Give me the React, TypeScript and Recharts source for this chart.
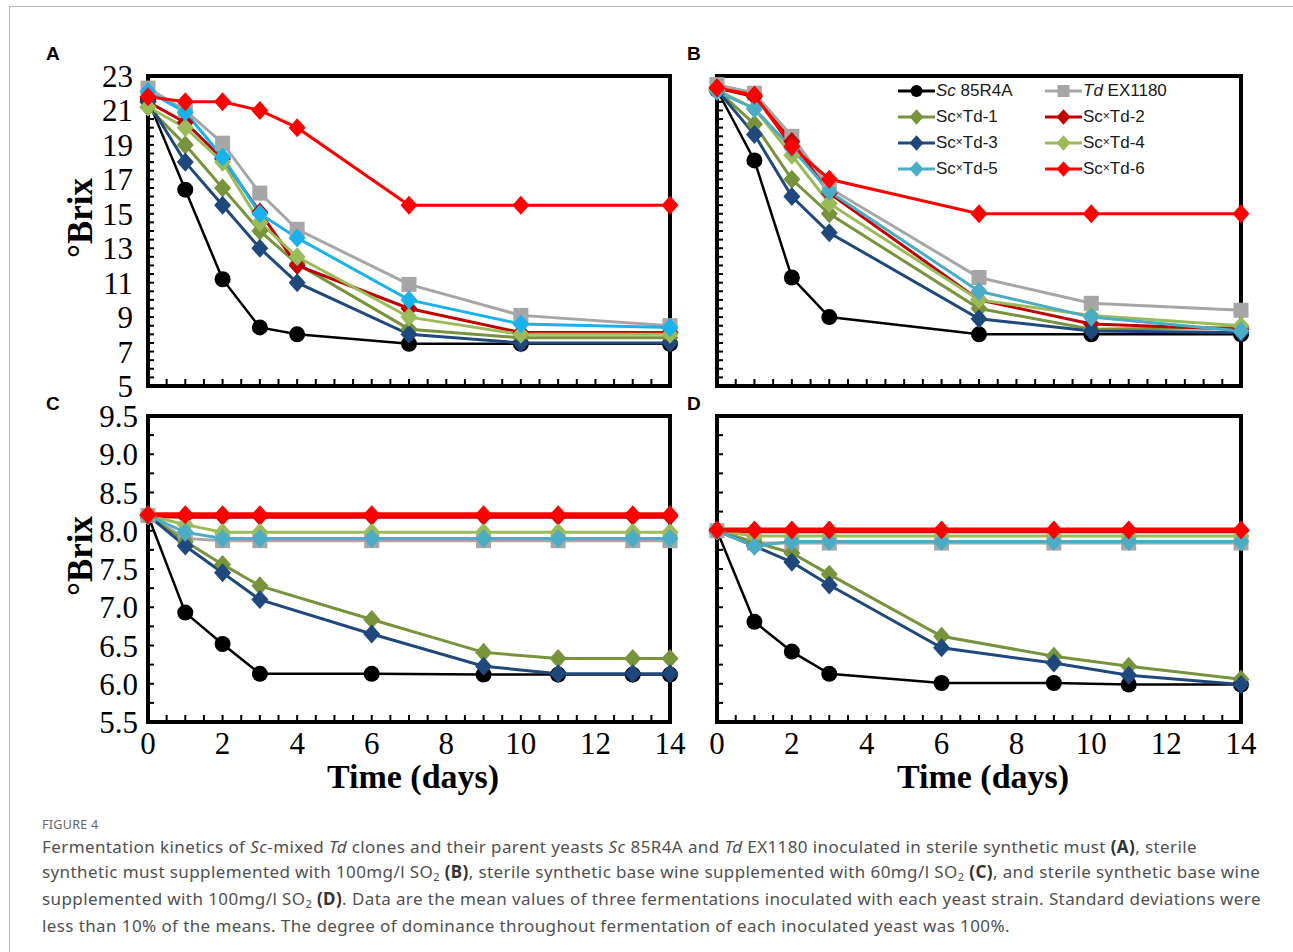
import React from 'react';
import { LineChart, Line, XAxis, YAxis, Legend, Label, ReferenceArea } from 'recharts';

// ---------- series definitions ----------
const SERIES_KEYS = ['sc', 'td', 'x1', 'x2', 'x3', 'x4', 'x5', 'x6'];
const SERIES_NAMES = ['Sc 85R4A', 'Td EX1180', 'Sc×Td-1', 'Sc×Td-2', 'Sc×Td-3', 'Sc×Td-4', 'Sc×Td-5', 'Sc×Td-6'];
const SERIES_COLORS = ['#000000', '#A6A6A6', '#77933C', '#C00000', '#1F497D', '#9BBB59', '#4BACC6', '#FF0000'];
const SERIES_MARKERS = ['circle', 'square', 'diamond', 'diamond', 'diamond', 'diamond', 'diamond', 'diamond'];
const CYAN_PANEL_A = '#19B2EC';

// ---------- panel A: sterile synthetic must ----------
const daysA = [0, 1, 2, 3, 4, 7, 10, 14];
const scA = [21.6, 16.4, 11.2, 8.4, 8.0, 7.45, 7.45, 7.45];
const tdA = [22.3, 21.0, 19.1, 16.2, 14.1, 10.9, 9.1, 8.5];
const x1A = [21.2, 19.0, 16.5, 14.0, 12.1, 8.3, 7.8, 7.8];
const x2A = [21.5, 20.3, 18.2, 15.1, 12.0, 9.5, 8.1, 8.1];
const x3A = [21.5, 18.0, 15.5, 13.0, 11.0, 8.0, 7.5, 7.5];
const x4A = [21.2, 20.0, 18.0, 14.5, 12.5, 9.0, 8.0, 8.0];
const x5A = [22.1, 20.9, 18.3, 15.0, 13.6, 10.0, 8.6, 8.4];
const x6A = [21.8, 21.5, 21.5, 21.0, 20.0, 15.5, 15.5, 15.5];

// ---------- panel B: must + 100 mg/l SO2 ----------
const daysB = [0, 1, 2, 3, 7, 10, 14];
const scB = [22.2, 18.1, 11.3, 9.0, 8.0, 8.0, 8.0];
const tdB = [22.5, 22.0, 19.5, 16.5, 11.3, 9.8, 9.4];
const x1B = [22.2, 20.2, 17.0, 15.0, 9.5, 8.3, 8.4];
const x2B = [22.3, 21.8, 19.2, 16.2, 10.0, 8.6, 8.3];
const x3B = [22.2, 19.6, 16.0, 13.9, 8.9, 8.2, 8.1];
const x4B = [22.2, 21.1, 18.4, 15.6, 10.0, 9.1, 8.5];
const x5B = [22.1, 21.1, 18.8, 16.3, 10.5, 9.0, 8.2];
const x6B = [22.3, 21.9, 18.9, 17.0, 15.0, 15.0, 15.0];

// ---------- panel C: base wine + 60 mg/l SO2 ----------
const daysC = [0, 1, 2, 3, 6, 9, 11, 13, 14];
const scC = [8.2, 6.93, 6.52, 6.13, 6.13, 6.12, 6.12, 6.12, 6.12];
const tdC = [8.2, 7.9, 7.87, 7.87, 7.87, 7.87, 7.87, 7.87, 7.87];
const x1C = [8.2, 7.86, 7.56, 7.28, 6.84, 6.41, 6.33, 6.33, 6.33];
const x2C = [8.2, 8.19, 8.19, 8.19, 8.19, 8.19, 8.19, 8.19, 8.19];
const x3C = [8.2, 7.8, 7.45, 7.1, 6.65, 6.23, 6.13, 6.13, 6.13];
const x4C = [8.2, 8.08, 7.98, 7.98, 7.98, 7.98, 7.98, 7.98, 7.98];
const x5C = [8.2, 7.98, 7.9, 7.9, 7.9, 7.9, 7.9, 7.9, 7.9];
const x6C = [8.21, 8.21, 8.21, 8.21, 8.21, 8.21, 8.21, 8.21, 8.21];

// ---------- panel D: base wine + 100 mg/l SO2 ----------
const daysD = [0, 1, 2, 3, 6, 9, 11, 14];
const scD = [8.0, 6.81, 6.42, 6.13, 6.01, 6.01, 5.99, 5.99];
const tdD = [8.0, 7.84, 7.84, 7.84, 7.84, 7.84, 7.84, 7.84];
const x1D = [8.0, 7.85, 7.71, 7.43, 6.62, 6.36, 6.23, 6.06];
const x2D = [8.0, 8.0, 8.0, 8.0, 8.0, 8.0, 8.0, 8.0];
const x3D = [8.0, 7.8, 7.59, 7.29, 6.47, 6.27, 6.11, 5.99];
const x4D = [8.0, 7.93, 7.93, 7.93, 7.93, 7.93, 7.93, 7.93];
const x5D = [8.0, 7.8, 7.86, 7.86, 7.86, 7.86, 7.86, 7.86];
const x6D = [8.01, 8.01, 8.01, 8.01, 8.01, 8.01, 8.01, 8.01];

// ---------- axis ticks ----------
const X_LABELS = [0, 2, 4, 6, 8, 10, 12, 14];
const X_MINOR_STEP = 0.5;
const Y_LABELS_AB = [5, 7, 9, 11, 13, 15, 17, 19, 21, 23];
const Y_MINOR_STEP_AB = 0.5;
const Y_LABELS_CD = [5.5, 6.0, 6.5, 7.0, 7.5, 8.0, 8.5, 9.0, 9.5];
const Y_MINOR_STEP_CD = 0.25;

const steps = (lo: number, hi: number, step: number) => {
  const out: number[] = [];
  for (let v = lo; v <= hi + 1e-9; v += step) out.push(Math.round(v * 1000) / 1000);
  return out;
};

const buildRows = (days: number[], cols: number[][]) =>
  days.map((d, i) => {
    const row: any = { day: d };
    SERIES_KEYS.forEach((k, j) => {
      row[k] = cols[j][i];
    });
    return row;
  });

const rowsA = buildRows(daysA, [scA, tdA, x1A, x2A, x3A, x4A, x5A, x6A]);
const rowsB = buildRows(daysB, [scB, tdB, x1B, x2B, x3B, x4B, x5B, x6B]);
const rowsC = buildRows(daysC, [scC, tdC, x1C, x2C, x3C, x4C, x5C, x6C]);
const rowsD = buildRows(daysD, [scD, tdD, x1D, x2D, x3D, x4D, x5D, x6D]);

const SERIF = '"Liberation Serif", "Times New Roman", serif';
const SANS = '"Liberation Sans", Arial, sans-serif';

const markerShape = (shape: string, cx: number, cy: number, s: number, color: string, key?: any) => {
  if (shape === 'circle') return <circle key={key} cx={cx} cy={cy} r={s} fill={color} />;
  if (shape === 'square')
    return <rect key={key} x={cx - s} y={cy - s} width={2 * s} height={2 * s} fill={color} />;
  return (
    <path
      key={key}
      d={`M${cx},${cy - s * 1.12}L${cx + s},${cy}L${cx},${cy + s * 1.12}L${cx - s},${cy}Z`}
      fill={color}
    />
  );
};

const makeDot = (shape: string, color: string, size: number) => (props: any) => {
  const { cx, cy, index } = props;
  if (cx == null || cy == null || isNaN(cx) || isNaN(cy)) return <g key={`e${index}`} />;
  return markerShape(shape, cx, cy, size, color, `d${index}`);
};

const LegendLabel = ({ name }: { name: string }) => {
  if (name.startsWith('Sc ') || name.startsWith('Td ')) {
    const [first, ...rest] = name.split(' ');
    return (
      <span>
        <i>{first}</i> {rest.join(' ')}
      </span>
    );
  }
  const parts = name.split('×');
  return (
    <span>
      {parts[0]}
      <span style={{ fontSize: 12, position: 'relative', top: -2 }}>×</span>
      {parts[1]}
    </span>
  );
};

const LegendContent = () => (
  <div style={{ display: 'grid', gridTemplateColumns: '147px 147px', rowGap: 0 }}>
    {SERIES_NAMES.map((name, i) => (
      <div key={name} style={{ display: 'flex', alignItems: 'center', height: 26, fontFamily: SANS, fontSize: 17, color: '#1a1a1a' }}>
        <svg width={37} height={18} style={{ flex: 'none' }}>
          <line x1={0} y1={9} x2={37} y2={9} stroke={SERIES_COLORS[i]} strokeWidth={3} />
          {markerShape(SERIES_MARKERS[i], 18.5, 9, SERIES_MARKERS[i] === 'diamond' ? 7 : 6, SERIES_COLORS[i])}
        </svg>
        <span style={{ marginLeft: 1, whiteSpace: 'nowrap' }}>
          <LegendLabel name={name} />
        </span>
      </div>
    ))}
  </div>
);

type PanelProps = {
  left: number;
  top: number;
  width: number;
  height: number;
  yAxisWidth: number;
  xAxisHeight: number;
  marginRight: number;
  rows: any[];
  yDomain: [number, number];
  yTicks: number[];
  yLabels: number[];
  yDecimals: number;
  yTickMargin: number;
  showYLabels: boolean;
  showXLabels: boolean;
  cyan: string;
  legend?: boolean;
  redWidth: number;
};

const Panel = (p: PanelProps) => {
  const colors = SERIES_COLORS.map((c, i) => (i === 6 ? p.cyan : c));
  return (
    <div style={{ position: 'absolute', left: p.left, top: p.top }}>
      <LineChart width={p.width} height={p.height} data={p.rows} margin={{ top: 16, right: p.marginRight, bottom: 0, left: 0 }}>
        <XAxis
          dataKey="day"
          type="number"
          domain={[0, 14]}
          ticks={steps(0, 14, X_MINOR_STEP)}
          interval={0}
          height={p.xAxisHeight}
          axisLine={false}
          tickSize={-7}
          tickMargin={17}
          tickLine={{ stroke: '#000', strokeWidth: 2 }}
          tick={{ fill: '#000', fontSize: 31, fontFamily: SERIF }}
          tickFormatter={(v: number) => (p.showXLabels && X_LABELS.includes(v) ? String(v) : '')}
        >
          {p.showXLabels && (
            <Label
              content={(lp: any) => {
                const vb = lp.viewBox || { x: 0, y: 0, width: 0, height: 0 };
                return (
                  <text
                    x={vb.x + vb.width / 2 + 4}
                    y={vb.y + 54}
                    textAnchor="middle"
                    dominantBaseline="central"
                    fontFamily={SERIF}
                    fontWeight="bold"
                    fontSize={34}
                    fill="#000"
                  >
                    Time (days)
                  </text>
                );
              }}
            />
          )}
        </XAxis>
        <YAxis
          type="number"
          domain={p.yDomain}
          ticks={p.yTicks}
          interval={0}
          width={p.yAxisWidth}
          axisLine={false}
          tickSize={-6}
          tickMargin={p.yTickMargin}
          tickLine={{ stroke: '#000', strokeWidth: 2 }}
          tick={{ fill: '#000', fontSize: 31, fontFamily: SERIF }}
          tickFormatter={(v: number) =>
            p.showYLabels && p.yLabels.some((l) => Math.abs(l - v) < 1e-6) ? v.toFixed(p.yDecimals) : ''
          }
        >
          {p.showYLabels && (
            <Label
              content={(lp: any) => {
                const vb = lp.viewBox || { x: 0, y: 0, width: 0, height: 0 };
                const cx = vb.x + 80;
                const cy = vb.y + vb.height / 2 - 13;
                return (
                  <text
                    transform={`translate(${cx},${cy}) rotate(-90)`}
                    textAnchor="middle"
                    dominantBaseline="central"
                    fontFamily={SERIF}
                    fontWeight="bold"
                    fontSize={35}
                    fill="#000"
                  >
                    °Brix
                  </text>
                );
              }}
            />
          )}
        </YAxis>
        <ReferenceArea
          x1={0}
          x2={14}
          y1={p.yDomain[0]}
          y2={p.yDomain[1]}
          fill="#ffffff"
          fillOpacity={0}
          stroke="#000"
          strokeWidth={4}
          ifOverflow="visible"
        />
        {SERIES_KEYS.map((k, i) => (
          <Line
            key={k}
            dataKey={k}
            name={SERIES_NAMES[i]}
            type="linear"
            stroke={colors[i]}
            strokeWidth={i === 7 || i === 3 ? p.redWidth : i === 0 ? 2.5 : 3}
            dot={makeDot(SERIES_MARKERS[i], colors[i], SERIES_MARKERS[i] === 'diamond' ? 8.5 : SERIES_MARKERS[i] === 'circle' ? 8 : 7.5)}
            activeDot={false}
            isAnimationActive={false}
          />
        ))}
        {p.legend && (
          <Legend
            layout="horizontal"
            verticalAlign="middle"
            align="center"
            content={() => <LegendContent />}
            wrapperStyle={{ position: 'absolute', left: 198, top: 18, width: 300, height: 110 }}
          />
        )}
      </LineChart>
    </div>
  );
};

const PanelLetter = ({ x, y, t }: { x: number; y: number; t: string }) => (
  <div style={{ position: 'absolute', left: x, top: y, fontFamily: SANS, fontWeight: 'bold', fontSize: 19, lineHeight: '20px', color: '#000' }}>
    {t}
  </div>
);

const CAPTION_LINES = [
  [
    { t: 'Fermentation kinetics of ' },
    { t: 'Sc', i: true },
    { t: '-mixed ' },
    { t: 'Td', i: true },
    { t: ' clones and their parent yeasts ' },
    { t: 'Sc', i: true },
    { t: ' 85R4A and ' },
    { t: 'Td', i: true },
    { t: ' EX1180 inoculated in sterile synthetic must ' },
    { t: '(A)', b: true },
    { t: ', sterile' },
  ],
  [
    { t: 'synthetic must supplemented with 100mg/l SO' },
    { t: '2', s: true },
    { t: ' ' },
    { t: '(B)', b: true },
    { t: ', sterile synthetic base wine supplemented with 60mg/l SO' },
    { t: '2', s: true },
    { t: ' ' },
    { t: '(C)', b: true },
    { t: ', and sterile synthetic base wine' },
  ],
  [
    { t: 'supplemented with 100mg/l SO' },
    { t: '2', s: true },
    { t: ' ' },
    { t: '(D)', b: true },
    { t: '. Data are the mean values of three fermentations inoculated with each yeast strain. Standard deviations were' },
  ],
  [{ t: 'less than 10% of the means. The degree of dominance throughout fermentation of each inoculated yeast was 100%.' }],
];

export default function App() {
  const ticksAB = steps(5, 23, Y_MINOR_STEP_AB);
  const ticksCD = steps(5.5, 9.5, Y_MINOR_STEP_CD);
  return (
    <div style={{ position: 'absolute', left: 0, top: 0, width: 1293, height: 952, background: '#fff', overflow: 'hidden' }}>
      <div style={{ position: 'absolute', left: 9, top: 6, width: 1300, height: 960, borderLeft: '1px solid #b5b5b5', borderTop: '1px solid #b5b5b5' }} />
      <PanelLetter x={46} y={44} t="A" />
      <PanelLetter x={687} y={44} t="B" />
      <PanelLetter x={46} y={394} t="C" />
      <PanelLetter x={687} y={394} t="D" />
      <Panel
        left={0} top={60} width={700} height={360} yAxisWidth={148} xAxisHeight={34} marginRight={30}
        rows={rowsA} yDomain={[5, 23]} yTicks={ticksAB} yLabels={Y_LABELS_AB} yDecimals={0} yTickMargin={21}
        showYLabels showXLabels={false} cyan={CYAN_PANEL_A} redWidth={3}
      />
      <Panel
        left={700} top={60} width={570} height={360} yAxisWidth={17} xAxisHeight={34} marginRight={29}
        rows={rowsB} yDomain={[5, 23]} yTicks={ticksAB} yLabels={Y_LABELS_AB} yDecimals={0} yTickMargin={21}
        showYLabels={false} showXLabels={false} cyan={SERIES_COLORS[6]} legend redWidth={3}
      />
      <Panel
        left={0} top={400} width={700} height={400} yAxisWidth={148} xAxisHeight={78} marginRight={30}
        rows={rowsC} yDomain={[5.5, 9.5]} yTicks={ticksCD} yLabels={Y_LABELS_CD} yDecimals={1} yTickMargin={16}
        showYLabels showXLabels cyan={SERIES_COLORS[6]} redWidth={5}
      />
      <Panel
        left={700} top={400} width={570} height={400} yAxisWidth={17} xAxisHeight={78} marginRight={29}
        rows={rowsD} yDomain={[5.5, 9.5]} yTicks={ticksCD} yLabels={Y_LABELS_CD} yDecimals={1} yTickMargin={16}
        showYLabels={false} showXLabels cyan={SERIES_COLORS[6]} redWidth={5}
      />
      <div style={{ position: 'absolute', left: 42, top: 816, fontFamily: '"Noto Sans", sans-serif', fontSize: 12.5, color: '#666', letterSpacing: 0.3 }}>
        FIGURE 4
      </div>
      <div style={{ position: 'absolute', left: 42, top: 834, fontFamily: '"Noto Sans", sans-serif', fontSize: 17, letterSpacing: 0.4, lineHeight: '25px', color: '#505050' }}>
        {CAPTION_LINES.map((line, li) => (
          <div key={li} style={{ whiteSpace: 'nowrap' }}>
            {line.map((seg: any, si) =>
              seg.s ? (
                <sub key={si} style={{ fontSize: 11, verticalAlign: 'baseline', position: 'relative', top: 3 }}>{seg.t}</sub>
              ) : (
                <span key={si} style={{ fontStyle: seg.i ? 'italic' : 'normal', fontWeight: seg.b ? 'bold' : 'normal', color: seg.b ? '#333' : undefined }}>
                  {seg.t}
                </span>
              )
            )}
          </div>
        ))}
      </div>
    </div>
  );
}
